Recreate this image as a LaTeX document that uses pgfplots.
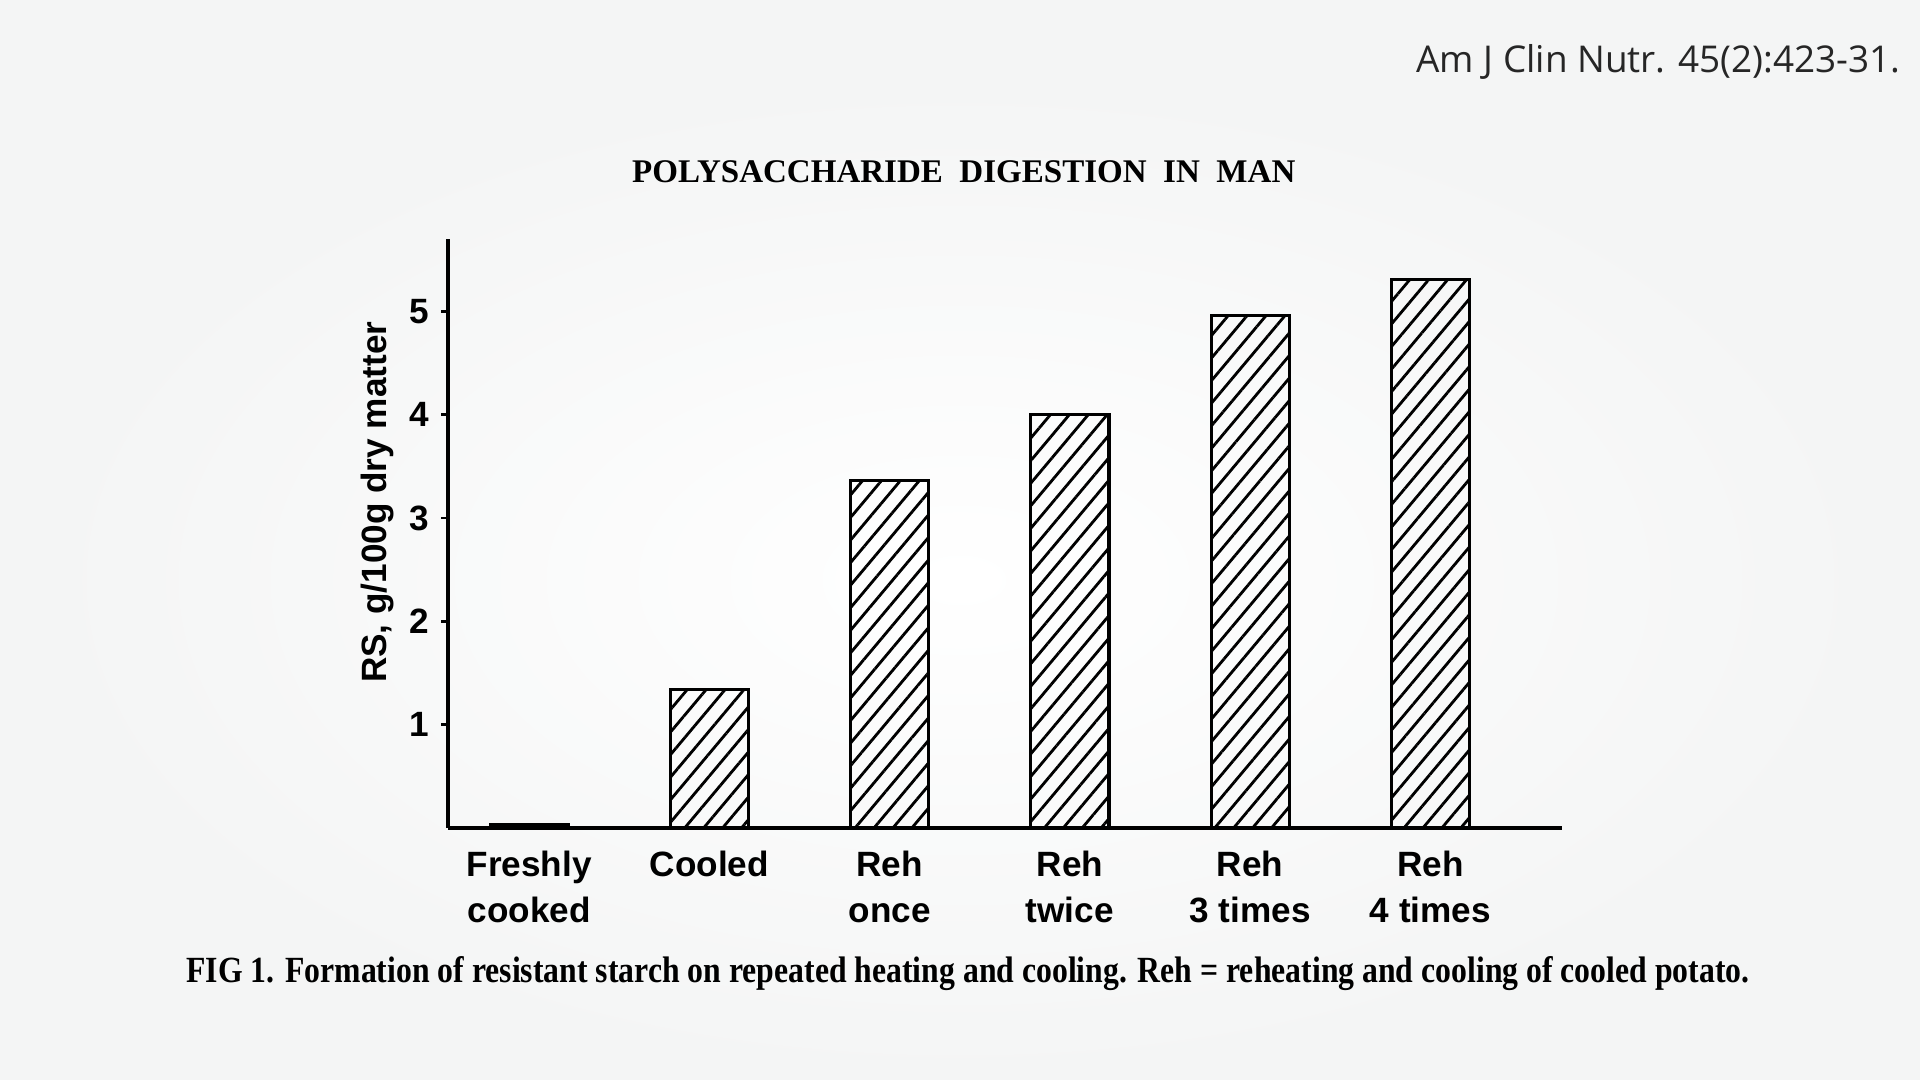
\documentclass[border=0pt]{standalone}
\usepackage{fontspec}
\setmainfont{Liberation Serif}
\newfontfamily\hsans{Liberation Sans}
\newfontfamily\osans{Open Sans}
\usepackage{pgfplots}
\pgfplotsset{compat=1.18}
\usetikzlibrary{patterns.meta}
\definecolor{bg}{HTML}{F4F5F5}

\begin{document}
\begin{tikzpicture}
% page background, 1 px of the 1920x1080 image = 0.1 mm
\fill[bg] (0,0) rectangle (192mm,108mm);
\shade[inner color=white, outer color=bg] (96mm,50mm) ellipse (92mm and 50mm);

\begin{axis}[
    at={(44.8mm,25.2mm)}, anchor=south west,
    scale only axis, width=111.4mm, height=58.9mm,
    axis lines*=left,
    axis line style={line width=1.1pt},
    ybar,
    xmin=-0.45, xmax=5.73, ymin=0, ymax=5.7,
    ytick={1,2,3,4,5},
    xtick={0,...,5},
    xticklabels={{Freshly\\cooked},Cooled,{Reh\\once},{Reh\\twice},{Reh\\3 times},{Reh\\4 times}},
    x tick style={draw=none},
    y tick style={line width=0.8pt, black},
    tick align=outside, major tick length=0.7mm,
    ticklabel style={font=\hsans\bfseries\fontsize{10}{13}\selectfont},
    xticklabel style={align=center, yshift=-0.4mm},
    /pgf/number format/assume math mode=true,
    ylabel={RS, g/100g dry matter},
    ylabel style={font=\hsans\bfseries\fontsize{10}{12}\selectfont,
        at={(axis description cs:-0.063,0.553)}, anchor=center},
    title={POLYSACCHARIDE\ \ DIGESTION\ \ IN\ \ MAN},
    title style={font=\bfseries\fontsize{9.4}{11}\selectfont,
        at={(axis description cs:0.463,1.078)}, anchor=center},
]
\addplot[draw=black, line width=0.9pt, bar width=0.433,
    pattern={Lines[angle=50, distance=1.45mm, line width=0.8pt]}]
    coordinates {(0,0.03) (1,1.34) (2,3.36) (3,4.0) (4,4.96) (5,5.31)};
\end{axis}

\node[anchor=east, text=black!85, font=\osans\fontsize{10.5}{12}\selectfont]
    at (191.3mm,101.8mm) {Am J Clin Nutr. 45(2):423-31.};
\node[font=\bfseries\fontsize{10.5}{12}\selectfont] at (96.8mm,10.6mm)
    {\scalebox{0.86}[1]{FIG 1. Formation of resistant starch on repeated heating and cooling. Reh = reheating and cooling of cooled potato.}};
\end{tikzpicture}
\end{document}
